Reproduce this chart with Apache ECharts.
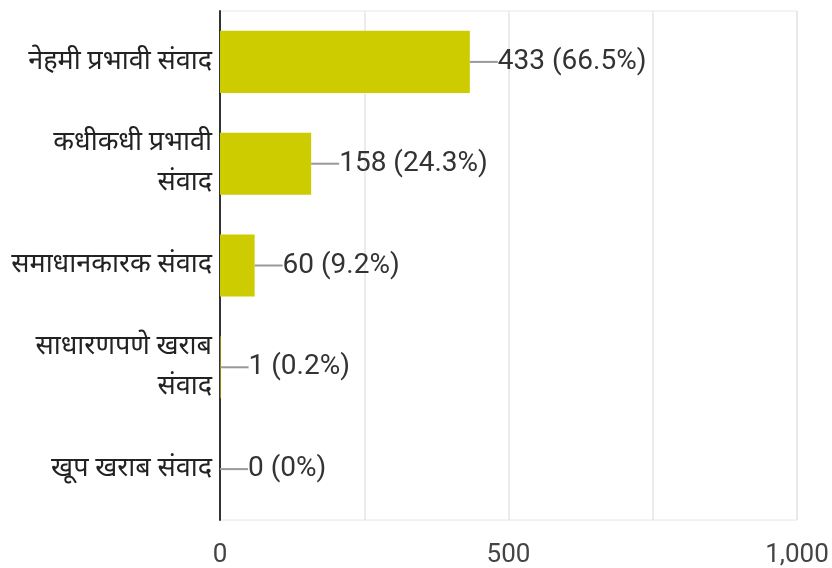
<!DOCTYPE html>
<html>
<head>
<meta charset="utf-8">
<script src="https://cdn.jsdelivr.net/npm/echarts@6/dist/echarts.min.js"></script>
<style>
    html, body { margin: 0; padding: 0; background: #fff; }
    #chart { width: 832px; height: 568px; }
</style>
</head>
<body>
<div id="chart"></div>
<script>
// data
var categories = ['नेहमी प्रभावी संवाद', 'कधीकधी प्रभावी\nसंवाद', 'समाधानकारक संवाद', 'साधारणपणे खराब\nसंवाद', 'खूप खराब संवाद'];
var counts = [433, 158, 60, 1, 0];
var percents = ['66.5%', '24.3%', '9.2%', '0.2%', '0%'];
var xTicks = [0, 500, 1000];

var font = 'Roboto, "Noto Sans", "Noto Sans Devanagari", sans-serif';

var myChart = echarts.init(document.getElementById('chart'));
myChart.setOption({
    animation: false,
    grid: {
        left: 220,
        right: 35,
        top: 11,
        bottom: 48,
        show: true,
        borderColor: '#e6e6e6',
        borderWidth: 1
    },
    xAxis: {
        type: 'value',
        min: 0,
        max: 1000,
        interval: 250,
        axisLine: { show: false },
        axisTick: { show: false },
        splitLine: { lineStyle: { color: '#e6e6e6', width: 1.5 } },
        axisLabel: {
            fontFamily: font,
            fontSize: 26,
            color: '#444',
            margin: 22,
            formatter: function (v) {
                return xTicks.indexOf(v) >= 0 ? v.toLocaleString('en-US') : '';
            }
        }
    },
    yAxis: {
        type: 'category',
        inverse: true,
        data: categories,
        axisLine: { lineStyle: { color: '#333', width: 2 } },
        axisTick: { show: false },
        axisLabel: {
            fontFamily: font,
            fontSize: 27,
            color: '#222',
            margin: 8,
            lineHeight: 40,
            align: 'right'
        }
    },
    series: [{
        type: 'bar',
        data: counts,
        barWidth: '61%',
        itemStyle: { color: '#cccc00' },
        label: {
            show: true,
            position: 'right',
            distance: 0,
            formatter: function (p) {
                return '{line|}{val|' + counts[p.dataIndex] + ' (' + percents[p.dataIndex] + ')}';
            },
            rich: {
                line: { width: 28, height: 2, backgroundColor: '#999' },
                val: { fontFamily: font, fontSize: 28, color: '#333' }
            }
        }
    }]
});
</script>
</body>
</html>
